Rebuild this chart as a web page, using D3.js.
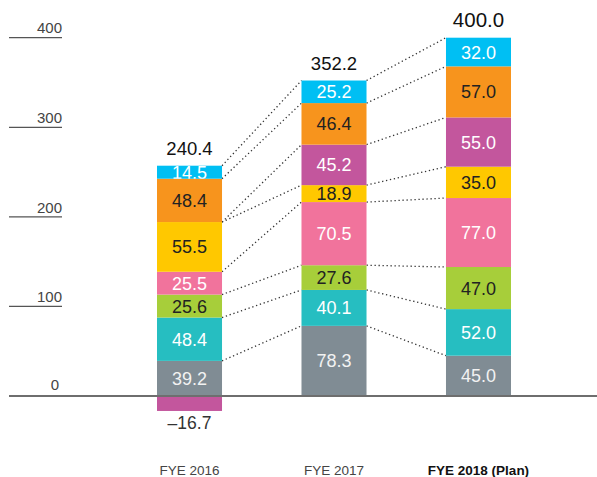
<!DOCTYPE html>
<html>
<head>
<meta charset="utf-8">
<script src="https://cdn.jsdelivr.net/npm/d3@7"></script>
<style>
  html, body { margin: 0; padding: 0; background: #fff; }
  svg { display: block; font-family: "Liberation Sans", Arial, Helvetica, sans-serif; }
</style>
</head>
<body>
<svg id="chart" width="597" height="477"></svg>
<script>
// ---- data ----
const categories = ["FYE 2016", "FYE 2017", "FYE 2018 (Plan)"];
const seriesKeys = ["gray", "teal", "green", "pink", "yellow", "purple", "orange", "blue"];
const gray   = [39.2, 78.3, 45.0];
const teal   = [48.4, 40.1, 52.0];
const green  = [25.6, 27.6, 47.0];
const pink   = [25.5, 70.5, 77.0];
const yellow = [55.5, 18.9, 35.0];
const purple = [-16.7, 45.2, 55.0];
const orange = [48.4, 46.4, 57.0];
const blue   = [14.5, 25.2, 32.0];
const totals = [240.4, 352.2, 400.0];
const yTicks = [0, 100, 200, 300, 400];

// ---- styles ----
const colors = {
  gray: "#808c94", teal: "#26bec1", green: "#a7ce3a", pink: "#f1739c",
  yellow: "#ffc800", purple: "#c3569d", orange: "#f7941d", blue: "#00bff3"
};
const labelColors = {
  gray: "#f2f2f2", teal: "#ffffff", green: "#222", pink: "#ffffff",
  yellow: "#222", purple: "#ffffff", orange: "#222", blue: "#ffffff"
};

const valuesByKey = { gray, teal, green, pink, yellow, purple, orange, blue };
const table = categories.map((c, i) => {
  const row = { category: c };
  seriesKeys.forEach(k => row[k] = valuesByKey[k][i]);
  return row;
});

const svg = d3.select("#chart");

const x = d3.scaleBand().domain(categories).range([157, 511]).paddingInner(0.55).paddingOuter(0);
const y = d3.scaleLinear().domain([0, 400]).range([396, 37.7]);
const bw = x.bandwidth();

// positive stack (negatives contribute zero height in the stack)
const stacked = d3.stack().keys(seriesKeys).value((d, k) => Math.max(0, d[k]))(table);

// ---- y ticks ----
const tickG = svg.append("g");
yTicks.filter(t => t > 0).forEach(t => {
  tickG.append("line")
    .attr("x1", 9).attr("x2", 62)
    .attr("y1", y(t)).attr("y2", y(t))
    .attr("stroke", "#555").attr("stroke-width", 1.3);
});
yTicks.forEach(t => {
  tickG.append("text")
    .attr("x", t === 0 ? 59 : 62)
    .attr("y", y(t) - (t === 0 ? 6.5 : 4.3))
    .attr("text-anchor", "end")
    .attr("font-size", 15)
    .attr("fill", "#444")
    .text(t);
});

// ---- connectors ----
const connG = svg.append("g");
stacked.forEach(layer => {
  for (let i = 0; i < categories.length - 1; i++) {
    connG.append("line")
      .attr("x1", x(categories[i]) + bw)
      .attr("y1", y(layer[i][1]))
      .attr("x2", x(categories[i + 1]))
      .attr("y2", y(layer[i + 1][1]))
      .attr("stroke", "#333")
      .attr("stroke-width", 1.3)
      .attr("stroke-dasharray", "1.3,2.7");
  }
});

// ---- bars ----
const defs = svg.append("defs");
const barG = svg.append("g");
const labG = svg.append("g");
let clipId = 0;
stacked.forEach(layer => {
  const k = layer.key;
  layer.forEach((seg, i) => {
    const v = table[i][k];
    let y0, y1;
    if (v < 0) { y0 = y(0); y1 = y(v); }
    else { y0 = y(seg[1]); y1 = y(seg[0]); }
    const cx = x(categories[i]);
    barG.append("rect")
      .attr("x", cx).attr("y", y0)
      .attr("width", bw).attr("height", y1 - y0)
      .attr("fill", colors[k]);
    if (v > 0) {
      const id = "clip" + (clipId++);
      defs.append("clipPath").attr("id", id)
        .append("rect").attr("x", cx).attr("y", y0).attr("width", bw).attr("height", y1 - y0);
      labG.append("text")
        .attr("clip-path", "url(#" + id + ")")
        .attr("x", cx + bw / 2)
        .attr("y", (y0 + y1) / 2 + 6.5)
        .attr("text-anchor", "middle")
        .attr("font-size", 18)
        .attr("fill", labelColors[k])
        .text(v.toFixed(1));
    } else if (v < 0) {
      labG.append("text")
        .attr("x", cx + bw / 2)
        .attr("y", y1 + 18)
        .attr("text-anchor", "middle")
        .attr("font-size", 17.5)
        .attr("fill", "#333")
        .text("\u2013" + Math.abs(v).toFixed(1));
    }
  });
});

// ---- zero line ----
svg.append("line")
  .attr("x1", 9).attr("x2", 597)
  .attr("y1", y(0)).attr("y2", y(0))
  .attr("stroke", "#6e6e6e").attr("stroke-width", 2);

// ---- totals ----
categories.forEach((c, i) => {
  const top = stacked[stacked.length - 1][i][1];
  svg.append("text")
    .attr("x", x(c) + bw / 2)
    .attr("y", y(top) - 11)
    .attr("text-anchor", "middle")
    .attr("font-size", i === 2 ? 20.5 : 18.5)
    .attr("fill", "#111")
    .text(totals[i].toFixed(1));
});

// ---- x labels ----
categories.forEach((c, i) => {
  svg.append("text")
    .attr("x", x(c) + bw / 2)
    .attr("y", 475)
    .attr("text-anchor", "middle")
    .attr("font-size", 13.5)
    .attr("font-weight", i === 2 ? "bold" : "normal")
    .attr("fill", i === 2 ? "#111" : "#444")
    .text(c);
});
</script>
</body>
</html>
